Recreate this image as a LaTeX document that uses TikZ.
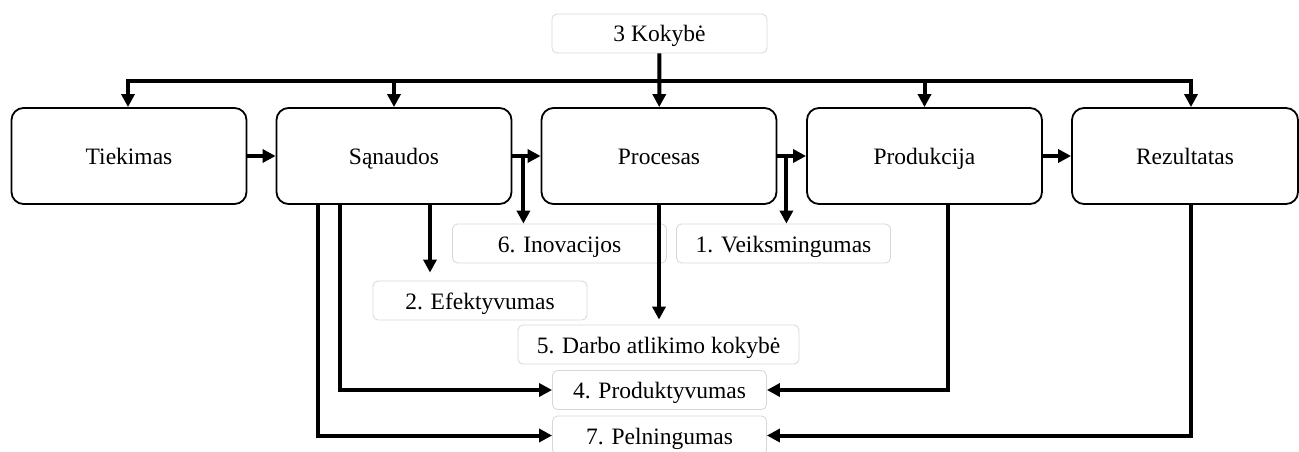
\documentclass[tikz,border=0pt]{standalone}
\usepackage{fontspec}
\setmainfont{Liberation Serif}
\usepackage{tikz}
\usetikzlibrary{arrows.meta,positioning}
\definecolor{lightc}{HTML}{D6D6D6}
\tikzset{
  ar/.style={-{Triangle[length=13pt,width=13pt]},line width=4pt},
  ln/.style={line width=4pt},
  mbox/.style={draw,line width=1.8pt,rounded corners=12pt,minimum width=235pt,minimum height=96pt,inner sep=2pt,text height=19pt,text depth=2pt,font=\fontsize{23.5}{28}\selectfont},
  lbl/.style={draw=lightc,line width=0.8pt,rounded corners=5pt,minimum width=214pt,minimum height=39pt,inner sep=2pt,text height=19pt,text depth=2pt,font=\fontsize{23.5}{28}\selectfont}
}
\begin{document}
\begin{tikzpicture}[x=1pt,y=-1pt]
\useasboundingbox (0,0) rectangle (1299,452);
% main chain
\node[mbox] (tiek) at (129,156) {Tiekimas};
\node[mbox] (sanaud) at (394,156) {Sąnaudos};
\node[mbox] (proces) at (659,156) {Procesas};
\node[mbox] (produkc) at (924.5,156) {Produkcija};
\node[mbox,minimum width=226pt] (rezult) at (1185,156) {Rezultatas};
% indicators
\node[lbl,minimum width=215pt] (kokyb) at (659.5,33.5) {3 Kokybė};
\node[lbl] (inov) at (559.5,243.5) {6. Inovacijos};
\node[lbl] (veiks) at (783.5,243.5) {1. Veiksmingumas};
\node[lbl] (efekt) at (480,300.5) {2. Efektyvumas};
\node[lbl,minimum width=281pt] (darbo) at (658.5,344.5) {5. Darbo atlikimo kokybė};
\node[lbl] (produkt) at (659.5,390) {4. Produktyvumas};
\node[lbl] (peln) at (659.5,435.5) {7. Pelningumas};
% quality bus
\coordinate (bl) at (128,81);
\coordinate (br) at (1191,81);
\draw[ln,line cap=rect] (bl) -- (br);
\draw[ar] (bl) -- (bl |- tiek.north);
\draw[ar] (br) -- (br |- rezult.north);
\foreach \n in {sanaud,produkc}{\draw[ar] (\n.north |- bl) -- (\n.north);}
\draw[ar] (kokyb) -- (proces);
% flow
\draw[ar] (tiek) -- (sanaud);
\draw[ar] (sanaud) -- (proces);
\draw[ar] (proces) -- (produkc);
\draw[ar] (produkc) -- (rezult);
\draw[ar] ([xshift=11pt]sanaud.east) -- ([xshift=11pt]sanaud.east |- inov.north);
\draw[ar] ([xshift=9pt]proces.east) -- ([xshift=9pt]proces.east |- veiks.north);
\draw[ar,shorten >=8pt] ([xshift=36pt]sanaud.south) -- ([xshift=36pt]sanaud.south |- efekt.north);
\draw[ar,shorten >=5pt] (proces.south) -- (proces.south |- darbo.north);
% feedback
\draw[ar] ([xshift=-54pt]sanaud.south) |- (produkt.west);
\draw[ar] ([xshift=-76pt]sanaud.south) |- (peln.west);
\draw[ar] ([xshift=23.5pt]produkc.south) |- (produkt.east);
\draw[ar] ([xshift=6pt]rezult.south) |- (peln.east);
\end{tikzpicture}
\end{document}
